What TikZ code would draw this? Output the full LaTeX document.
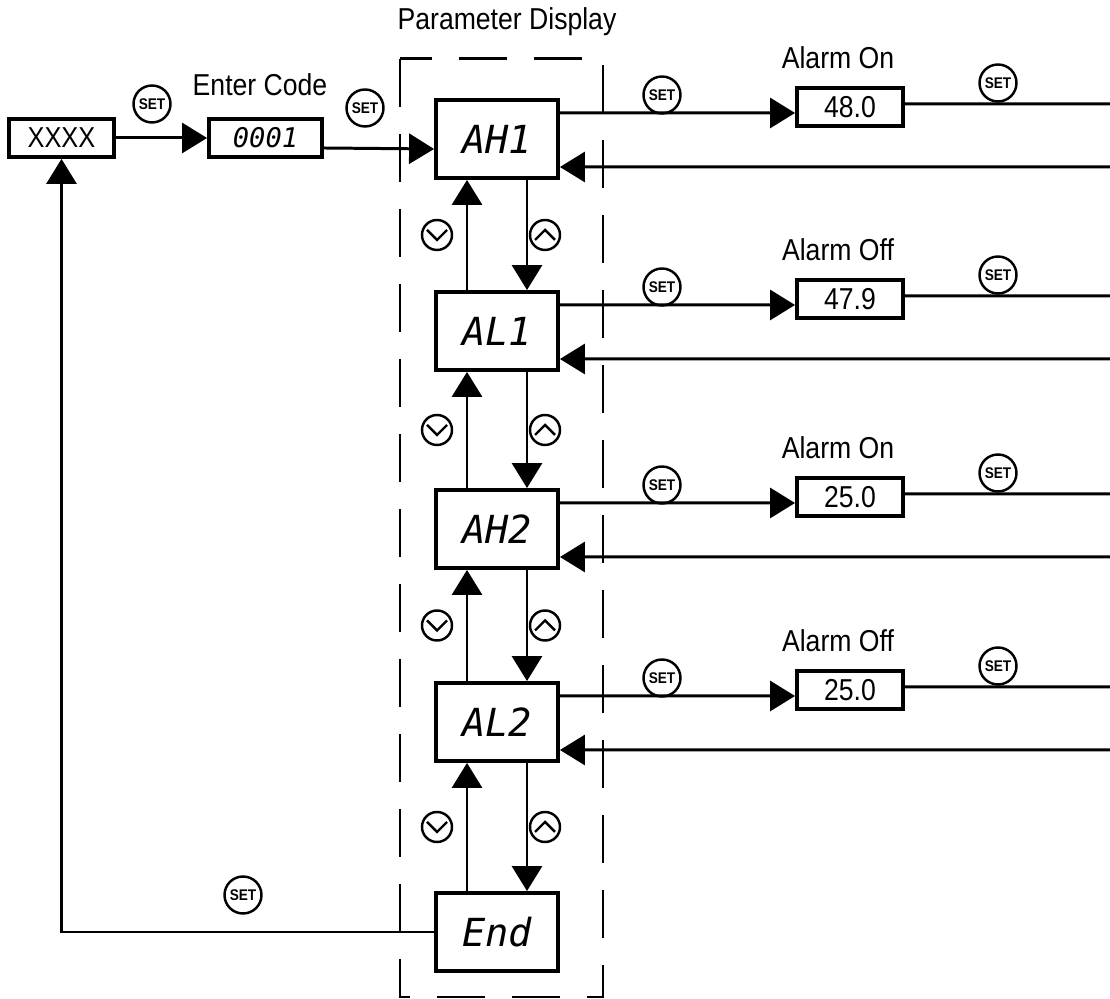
\documentclass[tikz,border=0pt]{standalone}
\usepackage{fontspec}
\setmainfont{Liberation Sans}[FakeStretch=0.88]
\newfontfamily\segfont{DejaVu Sans Mono}
\usepackage{tikz}
\usetikzlibrary{arrows.meta}

\tikzset{
    dispbox/.style={draw, line width=1.1pt, minimum width=12.2mm, minimum height=7.8mm, inner sep=0pt,
        font=\segfont\itshape\fontsize{11}{11}\selectfont},
    valbox/.style={draw, line width=1.1pt, minimum width=10.6mm, minimum height=3.8mm, inner sep=0pt,
        font=\fontsize{8.6}{8.6}\selectfont},
    caption/.style={font=\fontsize{8.6}{8.6}\selectfont},
    setkey/.style={circle, draw, line width=0.7pt, minimum size=3.7mm, inner sep=0pt,
        font=\bfseries\fontsize{4.4}{4.4}\selectfont},
    downkey/.style={circle, draw, line width=0.7pt, minimum size=3mm, inner sep=0pt,
        path picture={\draw[line width=0.7pt] ([xshift=-1mm, yshift=0.5mm]path picture bounding box.center)
            -- ([yshift=-0.5mm]path picture bounding box.center)
            -- ([xshift=1mm, yshift=0.5mm]path picture bounding box.center);}},
    upkey/.style={circle, draw, line width=0.7pt, minimum size=3mm, inner sep=0pt,
        path picture={\draw[line width=0.7pt] ([xshift=-1mm, yshift=-0.5mm]path picture bounding box.center)
            -- ([yshift=0.5mm]path picture bounding box.center)
            -- ([xshift=1mm, yshift=-0.5mm]path picture bounding box.center);}},
    dashframe/.style={dash pattern=on 4.8mm off 2.7mm}
}

\begin{document}
\begin{tikzpicture}[x=0.1mm, y=-0.1mm, line width=0.85pt, >={Triangle[length=2.5mm, width=3mm]}]
    \useasboundingbox (0,0) rectangle (1110,999);

    % Code entry
    \node[valbox, minimum width=10.5mm, font=\fontsize{8.2}{8.2}\selectfont] (xxxx) at (61.5,138) {XXXX};
    \node[valbox, minimum width=11.3mm, font=\segfont\itshape\fontsize{7.7}{7.7}\selectfont] (code) at (265.5,138) {0001};
    \node[caption] (codelbl) at (260,85) {Enter Code};
    \node[setkey] (set0) at (152,104) {SET};
    \node[setkey] (set1) at (365,108) {SET};
    \draw[->] (xxxx) -- (code);

    % Parameter display
    \node[caption] (paramlbl) at (507,22) {Parameter Display};
    \draw[dashframe] (400,59) rectangle (603,997);
    \foreach \name/\txt/\y in {ah1/AH1/139, al1/AL1/331, ah2/AH2/529, al2/AL2/722, fin/End/932}
        \node[dispbox] (\name) at (497,\y) {\txt};
    \draw[->] ([yshift=-1mm]code.east) -- ([yshift=-1mm]ah1.west);

    % Up / down keys
    \foreach \up/\dn in {ah1/al1, al1/ah2, ah2/al2, al2/fin} {
        \draw[->] ([xshift=-3mm]\dn.north) -- ([xshift=-3mm]\up.south);
        \draw[->] ([xshift=3mm]\up.south) -- ([xshift=3mm]\dn.north);
        \path ([xshift=-6mm]\up.south) -- ([xshift=-6mm]\dn.north) node[midway, downkey] (down-\dn) {};
        \path ([xshift=4.8mm]\up.south) -- ([xshift=4.8mm]\dn.north) node[midway, upkey] (up-\dn) {};
    }

    % Alarm values
    \foreach \name/\val/\lbl/\y in {ah1/48.0/Alarm On/139, al1/47.9/Alarm Off/331, ah2/25.0/Alarm On/529, al2/25.0/Alarm Off/722} {
        \node[valbox] (val-\name) at (850,\y-32) {\val};
        \node[caption] (lbl-\name) at (838,\y-81) {\lbl};
        \node[setkey] (seta-\name) at (662,\y-44) {SET};
        \node[setkey] (setb-\name) at (998,\y-56) {SET};
        \coordinate (eout-\name) at (1110,\y-35);
        \coordinate (ein-\name) at (1110,\y+28);
        \draw[->] ([yshift=2.6mm]\name.east) -- ([yshift=-0.6mm]val-\name.west);
        \draw ([yshift=0.3mm]val-\name.east) -- (eout-\name);
        \draw[->] (ein-\name) -- ([yshift=-2.8mm]\name.east);
    }

    % Back to start
    \draw[->] (fin.west) -| (xxxx.south);
    \node[setkey] (set2) at (243,895) {SET};
\end{tikzpicture}
\end{document}
